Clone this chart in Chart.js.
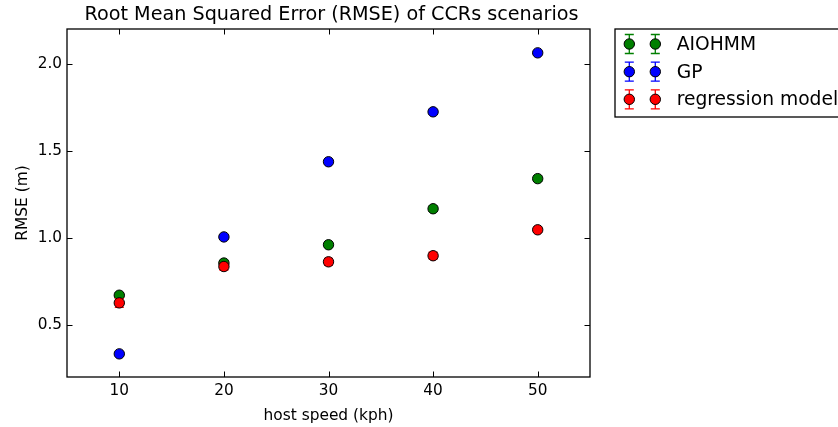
<!DOCTYPE html>
<html>
<head>
<meta charset="utf-8">
<script src="https://cdn.jsdelivr.net/npm/chart.js@4"></script>
<style>
html,body{margin:0;padding:0;background:#fff;}
#wrap{width:838px;height:427px;position:relative;}
</style>
</head>
<body>
<div id="wrap"><canvas id="c" width="838" height="427"></canvas></div>
<script>
// ---- data ----
const hostSpeeds = [10, 20, 30, 40, 50];
const aiohmmRMSE = [0.67, 0.855, 0.96, 1.167, 1.34];
const aiohmmErr  = [0.015, 0.015, 0.015, 0.015, 0.015];
const gpRMSE     = [0.333, 1.005, 1.437, 1.724, 2.063];
const gpErr      = [0.01, 0.01, 0.01, 0.01, 0.01];
const regRMSE    = [0.626, 0.835, 0.862, 0.897, 1.046];
const regErr     = [0.025, 0.02, 0.02, 0.02, 0.015];
const xTicks = [10, 20, 30, 40, 50];
const yTicks = [0.5, 1.0, 1.5, 2.0];
const seriesNames = ['AIOHMM', 'GP', 'regression model'];
const seriesColors = ['#007f00', '#0000ff', '#ff0000'];
const titleText = 'Root Mean Squared Error (RMSE) of CCRs scenarios';
const xTitle = 'host speed (kph)';
const yTitle = 'RMSE (m)';

const FONT = "'DejaVu Sans', sans-serif";

function makeDs(i, ys, errs, order) {
  return {
    label: seriesNames[i],
    data: hostSpeeds.map((x, k) => ({x: x, y: ys[k], err: errs[k]})),
    backgroundColor: seriesColors[i],
    borderColor: '#000',
    borderWidth: 1,
    pointRadius: 5.2,
    pointHoverRadius: 5.2,
    showLine: false,
    order: order
  };
}

const decor = {
  id: 'decor',
  beforeDatasetDraw(chart, args) {
    const ds = chart.data.datasets[args.index];
    const xs = chart.scales.x, ys = chart.scales.y;
    const ctx = chart.ctx;
    ctx.save();
    ctx.strokeStyle = ds.backgroundColor;
    ctx.lineWidth = 1.3;
    ds.data.forEach(p => {
      const px = xs.getPixelForValue(p.x);
      const y1 = ys.getPixelForValue(p.y - p.err);
      const y2 = ys.getPixelForValue(p.y + p.err);
      ctx.beginPath();
      ctx.moveTo(px, y1); ctx.lineTo(px, y2);
      ctx.moveTo(px - 4.5, y1); ctx.lineTo(px + 4.5, y1);
      ctx.moveTo(px - 4.5, y2); ctx.lineTo(px + 4.5, y2);
      ctx.stroke();
    });
    ctx.restore();
  },
  afterDraw(chart) {
    const ctx = chart.ctx;
    const a = chart.chartArea;
    const xs = chart.scales.x, ys = chart.scales.y;
    ctx.save();
    // frame
    ctx.strokeStyle = '#000';
    ctx.lineWidth = 1.3;
    ctx.strokeRect(a.left, a.top, a.right - a.left, a.bottom - a.top);
    // inward ticks
    const tl = 5.5;
    ctx.beginPath();
    xTicks.forEach(v => {
      const px = Math.round(xs.getPixelForValue(v)) + 0.5;
      ctx.moveTo(px, a.bottom); ctx.lineTo(px, a.bottom - tl);
      ctx.moveTo(px, a.top); ctx.lineTo(px, a.top + tl);
    });
    yTicks.forEach(v => {
      const py = Math.round(ys.getPixelForValue(v)) + 0.5;
      ctx.moveTo(a.left, py); ctx.lineTo(a.left + tl, py);
      ctx.moveTo(a.right, py); ctx.lineTo(a.right - tl, py);
    });
    ctx.lineWidth = 1;
    ctx.stroke();
    // title
    ctx.fillStyle = '#000';
    ctx.font = '19.2px ' + FONT;
    ctx.textAlign = 'center';
    ctx.textBaseline = 'alphabetic';
    ctx.fillText(titleText, 331.5, 20);
    // axis titles
    ctx.font = '15.4px ' + FONT;
    ctx.fillText(xTitle, (a.left + a.right) / 2, 420);
    ctx.save();
    ctx.translate(26.5, (a.top + a.bottom) / 2);
    ctx.rotate(-Math.PI / 2);
    ctx.fillText(yTitle, 0, 0);
    ctx.restore();
    // legend
    ctx.lineWidth = 1.3;
    ctx.strokeStyle = '#000';
    ctx.strokeRect(615, 29, 300, 88);
    const rows = [44, 71.7, 99.3];
    const mx = [629.3, 655.3];
    ctx.font = '18.7px ' + FONT;
    ctx.textAlign = 'left';
    ctx.textBaseline = 'middle';
    chart.data.datasets.forEach((ds, i) => {
      const ry = rows[i];
      mx.forEach(x => {
        ctx.strokeStyle = ds.backgroundColor;
        ctx.lineWidth = 1.3;
        ctx.beginPath();
        ctx.moveTo(x, ry - 9.5); ctx.lineTo(x, ry + 9.5);
        ctx.moveTo(x - 4.5, ry - 9.5); ctx.lineTo(x + 4.5, ry - 9.5);
        ctx.moveTo(x - 4.5, ry + 9.5); ctx.lineTo(x + 4.5, ry + 9.5);
        ctx.stroke();
        ctx.beginPath();
        ctx.arc(x, ry, 5.2, 0, Math.PI * 2);
        ctx.fillStyle = ds.backgroundColor;
        ctx.fill();
        ctx.strokeStyle = '#000';
        ctx.lineWidth = 1;
        ctx.stroke();
      });
      ctx.fillStyle = '#000';
      ctx.fillText(ds.label, 676.7, ry + 1);
    });
    ctx.restore();
  }
};

new Chart(document.getElementById('c'), {
  type: 'scatter',
  data: {
    datasets: [
      makeDs(0, aiohmmRMSE, aiohmmErr, 3),
      makeDs(1, gpRMSE, gpErr, 2),
      makeDs(2, regRMSE, regErr, 1)
    ]
  },
  options: {
    responsive: false,
    animation: false,
    devicePixelRatio: 1,
    layout: {padding: {left: 0, top: 29, right: 248, bottom: 0}},
    plugins: {legend: {display: false}, title: {display: false}, tooltip: {enabled: false}},
    scales: {
      x: {
        type: 'linear', min: 5, max: 55,
        grid: {display: false, drawTicks: false},
        border: {display: false},
        afterBuildTicks: s => { s.ticks = xTicks.map(v => ({value: v})); },
        afterFit: s => { s.height = 50; },
        ticks: {padding: 5, color: '#000', font: {family: FONT, size: 15.3}, maxRotation: 0,
                callback: v => String(v)}
      },
      y: {
        type: 'linear', min: 0.2, max: 2.2,
        grid: {display: false, drawTicks: false},
        border: {display: false},
        afterBuildTicks: s => { s.ticks = yTicks.map(v => ({value: v})); },
        afterFit: s => { s.width = 67; },
        ticks: {padding: 5, color: '#000', font: {family: FONT, size: 15.3},
                callback: v => Number(v).toFixed(1)}
      }
    }
  },
  plugins: [decor]
});
</script>
</body>
</html>
